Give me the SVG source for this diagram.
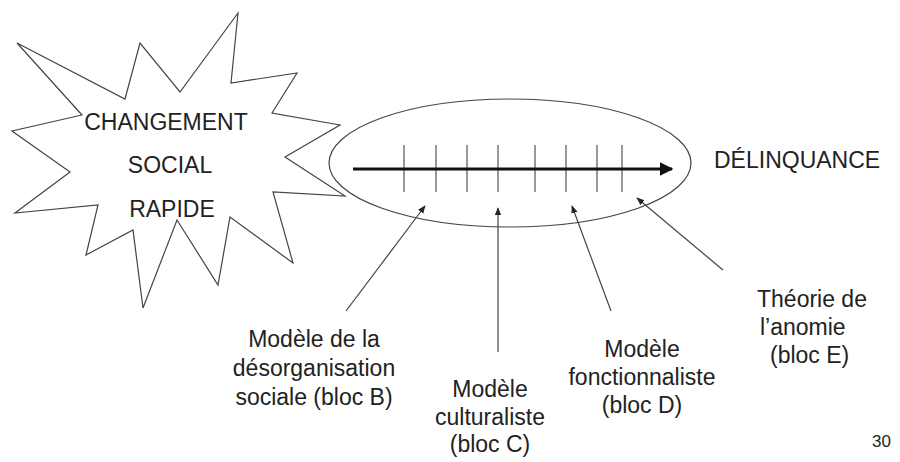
<svg xmlns="http://www.w3.org/2000/svg" width="900" height="462" viewBox="0 0 900 462">
<style>
text{font-family:"Liberation Sans",Arial,sans-serif;font-size:23px;fill:#222}
.m{text-anchor:middle}
.ptr{stroke:#444;stroke-width:1.2;fill:none}
.tick{stroke:#555;stroke-width:1.2}
</style>
<defs>
<marker id="ah" viewBox="0 0 10 10" refX="9" refY="5" markerWidth="8" markerHeight="8" markerUnits="userSpaceOnUse" orient="auto">
<path d="M0,1 L10,5 L0,9 Z" fill="#222"/>
</marker>
<marker id="big" viewBox="0 0 10 10" refX="9" refY="5" markerWidth="4.5" markerHeight="4.5" orient="auto">
<path d="M0,0 L10,5 L0,10 Z" fill="#111"/>
</marker>
</defs>
<rect width="900" height="462" fill="#fff"/>
<g id="changement">
<polygon points="238,13 231,83 297,73 272,113 340,125 285,157 345,196 273,192 293,263 230,217 218,285 177,220 143,308 133,230 86,255 98,205 15,213 70,172 12,131 82,115 17,43 125,99 140,43 180,92" fill="#fff" stroke="#444" stroke-width="1.2" stroke-linejoin="miter"/>
<text class="m" x="166" y="130">CHANGEMENT</text>
<text class="m" x="170" y="173">SOCIAL</text>
<text class="m" x="172" y="217">RAPIDE</text>
</g>
<g id="axe">
<ellipse cx="510" cy="163" rx="181" ry="64" fill="#fff" stroke="#444" stroke-width="1.2"/>
<line class="tick" x1="404" y1="145" x2="404" y2="192"/>
<line class="tick" x1="436" y1="145" x2="436" y2="192"/>
<line class="tick" x1="467" y1="145" x2="467" y2="192"/>
<line class="tick" x1="498" y1="145" x2="498" y2="192"/>
<line class="tick" x1="535" y1="145" x2="535" y2="192"/>
<line class="tick" x1="566" y1="145" x2="566" y2="192"/>
<line class="tick" x1="597" y1="145" x2="597" y2="192"/>
<line class="tick" x1="622" y1="145" x2="622" y2="192"/>
<line x1="353" y1="169" x2="672" y2="169" stroke="#111" stroke-width="3" marker-end="url(#big)"/>
</g>
<g id="delinquance">
<text x="714" y="168">DÉLINQUANCE</text>
</g>
<g id="connecteurs">
<line class="ptr" x1="346" y1="311" x2="425" y2="206" marker-end="url(#ah)"/>
<line class="ptr" x1="498" y1="352" x2="498" y2="208" marker-end="url(#ah)"/>
<line class="ptr" x1="611" y1="311" x2="572" y2="206" marker-end="url(#ah)"/>
<line class="ptr" x1="723" y1="270" x2="637" y2="198" marker-end="url(#ah)"/>
</g>
<g id="blocB">
<text class="m" x="314" y="347">Modèle de la</text>
<text class="m" x="314" y="376">désorganisation</text>
<text class="m" x="314" y="405">sociale (bloc B)</text>
</g>
<g id="blocC">
<text class="m" x="490" y="397">Modèle</text>
<text class="m" x="490" y="425">culturaliste</text>
<text class="m" x="490" y="452">(bloc C)</text>
</g>
<g id="blocD">
<text class="m" x="642" y="357">Modèle</text>
<text class="m" x="642" y="385">fonctionnaliste</text>
<text class="m" x="642" y="413">(bloc D)</text>
</g>
<g id="blocE">
<text x="757" y="307">Théorie de</text>
<text x="760" y="335">l’anomie</text>
<text x="770" y="363">(bloc E)</text>
</g>
<text x="872" y="447" style="font-size:17px">30</text>
</svg>
